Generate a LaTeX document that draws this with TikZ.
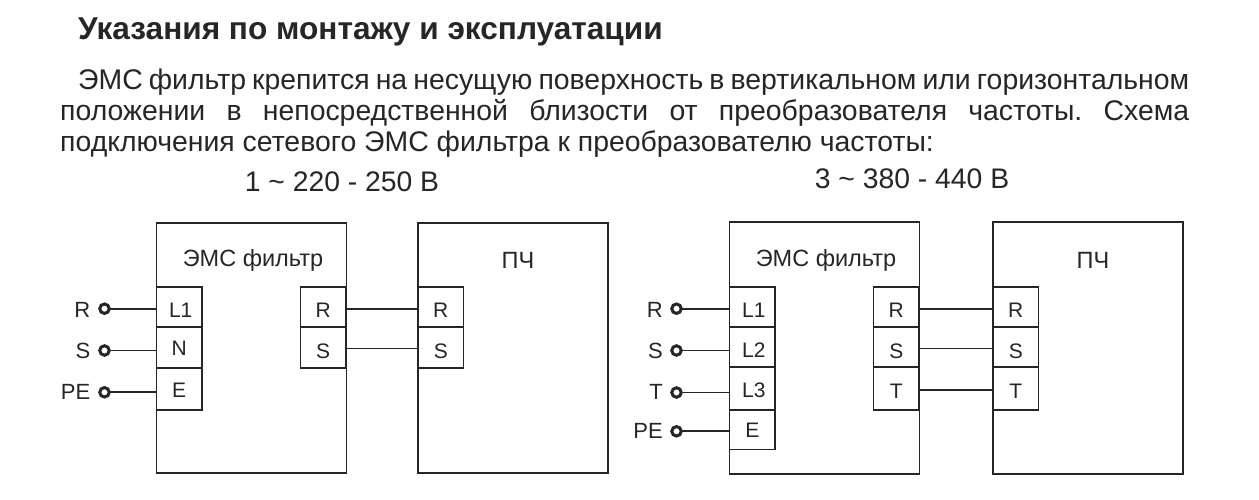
\documentclass[tikz,border=0pt]{standalone}
\usepackage{fontspec}
\setmainfont{Liberation Sans}
\definecolor{ink}{HTML}{262626}
\tikzset{
  x=1pt,y=-1pt,
  wire/.style={draw=ink,line width=1.8pt},
  frame/.style={draw=ink,line width=1.8pt,minimum width=190pt,minimum height=250pt,inner sep=0pt,outer sep=0pt,anchor=north west},
  term/.style={draw=ink,line width=1.8pt,fill=white,minimum width=45.5pt,minimum height=40.5pt,inner sep=0pt,outer sep=0pt,anchor=north west,font=\fontsize{21}{24}\selectfont,text=ink,text height=18pt,text depth=0pt},
  toprow/.style={text height=22pt},
  pin/.style={circle,draw=ink,line width=3pt,fill=white,minimum size=9.5pt,inner sep=0pt,outer sep=0pt},
  lab/.style={font=\fontsize{23.5}{26}\selectfont,text=ink,inner sep=0pt},
  plab/.style={lab,font=\fontsize{22}{24}\selectfont,anchor=east},
}
\begin{document}
\begin{tikzpicture}
\useasboundingbox[fill=white] (0,0) rectangle (1259,500);
\node[anchor=base west,inner sep=0,font=\bfseries\fontsize{31.6}{34}\selectfont,text=ink] (title) at (78,40) {Указания по монтажу и эксплуатации};
\node[anchor=north west,inner sep=0,text width=1129pt,align=justify,font=\fontsize{28.4}{31}\selectfont,text=ink] (para) at (60,69) {\frenchspacing\spaceskip=0.2em plus 0.4em minus 0.1em\emergencystretch=20pt\hspace*{18pt}ЭМС фильтр крепится на несущую поверхность в вертикальном или горизонтальном\linebreak положении в непосредственной близости от преобразователя частоты. Схема\linebreak\spaceskip=0pt подключения сетевого ЭМС фильтра к преобразователю частоты:};
\node[lab,font=\fontsize{28.3}{30}\selectfont] (h1) at (342,182) {1 \textasciitilde{} 220 - 250 В};
\node[lab,font=\fontsize{28.3}{30}\selectfont] (h3) at (912,179) {3 \textasciitilde{} 380 - 440 В};
% left diagram
\node[frame] (f1) at (156.5,223) {};
\node[frame] (p1) at (418,223) {};
\node[lab] (f1t) at (253,260) {ЭМС фильтр};
\node[lab] (p1t) at (518,260) {ПЧ};
\node[term,toprow] (a1) at (156.5,286.7) {\kern3pt L1};
\node[term,text height=15pt] (a2) at (156.5,327.3) {N};
\node[term,minimum height=42pt] (a3) at (156.5,367.6) {E};
\node[term,toprow] (b1) at (300.5,286.7) {R};
\node[term,text height=21pt] (b2) at (300.5,327.3) {S};
\node[term,toprow] (c1) at (418,286.7) {R};
\node[term,text height=21pt] (c2) at (418,327.3) {S};
\node[pin] (q1) at (104.5,308.7) {};
\node[pin] (q2) at (104.5,350.5) {};
\node[pin] (q3) at (104.5,392.3) {};
\node[plab] (qr) at (90.5,309.5) {R};
\node[plab] (qs) at (90.5,350.5) {S};
\node[plab] (qpe) at (90.5,392) {PE};
\draw[wire] (q1) -- (q1 -| a1.west);
\draw[wire] (q2) -- (q2 -| a2.west);
\draw[wire] (q3) -- (q3 -| a3.west);
\draw[wire] ([yshift=-1.8pt]b1.east) -- ([yshift=-1.8pt]c1.west);
\draw[wire] ([yshift=-1pt]b2.east) -- ([yshift=-1pt]c2.west);
% right diagram
\node[frame,minimum height=252pt] (f2) at (729.5,222) {};
\node[frame,minimum height=252pt] (p2) at (993,222) {};
\node[lab] (f2t) at (826,260) {ЭМС фильтр};
\node[lab] (p2t) at (1093,260) {ПЧ};
\node[term,toprow] (d1) at (729.5,286.7) {\kern3pt L1};
\node[term,text height=19pt] (d2) at (729.5,327.3) {\kern3pt L2};
\node[term,minimum height=43pt] (d3) at (729.5,367.3) {\kern3pt L3};
\node[term,minimum height=39pt,text height=16pt] (d4) at (729.5,410.4) {E};
\node[term,toprow] (e1) at (873.5,286.7) {R};
\node[term,text height=21pt] (e2) at (873.5,327.3) {S};
\node[term,minimum height=43pt,text height=20pt] (e3) at (873.5,367.3) {T};
\node[term,toprow] (g1) at (993,286.7) {R};
\node[term,text height=21pt] (g2) at (993,327.3) {S};
\node[term,minimum height=43pt,text height=20pt] (g3) at (993,367.3) {T};
\node[pin] (r1) at (676.5,308.7) {};
\node[pin] (r2) at (676.5,350.5) {};
\node[pin] (r3) at (676.5,392.5) {};
\node[pin] (r4) at (676.5,431.3) {};
\node[plab] (rr) at (663,309.5) {R};
\node[plab] (rs) at (663,350.5) {S};
\node[plab] (rt) at (663,392) {T};
\node[plab] (rpe) at (663,431) {PE};
\draw[wire] (r1) -- (r1 -| d1.west);
\draw[wire] (r2) -- (r2 -| d2.west);
\draw[wire] (r3) -- (r3 -| d3.west);
\draw[wire] (r4) -- (r4 -| d4.west);
\draw[wire] ([yshift=-1.8pt]e1.east) -- ([yshift=-1.8pt]g1.west);
\draw[wire] ([yshift=-1pt]e2.east) -- ([yshift=-1pt]g2.west);
\draw[wire] ([yshift=-1.2pt]e3.east) -- ([yshift=-1.2pt]g3.west);
\end{tikzpicture}
\end{document}
